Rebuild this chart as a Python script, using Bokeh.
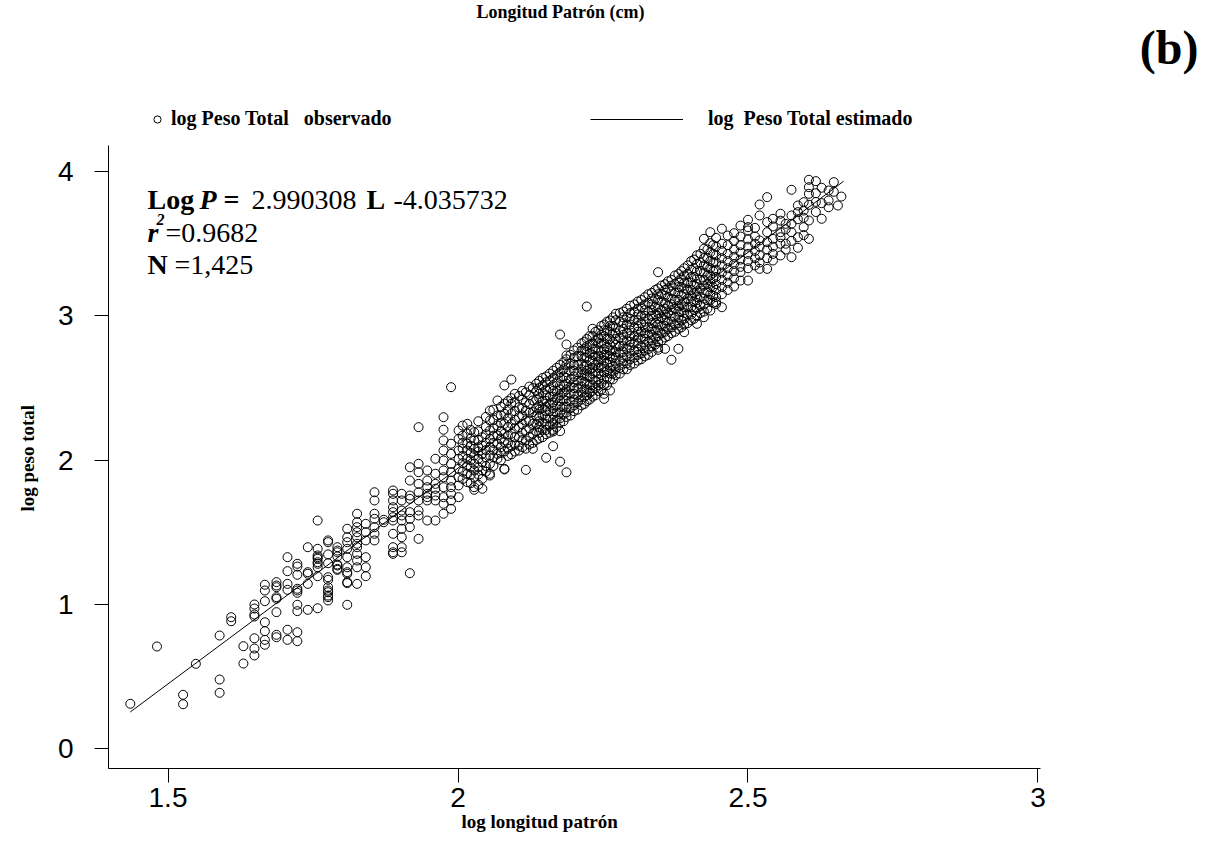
from bokeh.plotting import figure
from bokeh.models import Range1d, FixedTicker, NumeralTickFormatter, Label, Legend, LegendItem, Title
from bokeh.embed import file_html
from bokeh.resources import INLINE

# ---------------- data ----------------
# observed points, grouped by log length column
col_x = [1.435, 1.481, 1.526, 1.548, 1.589, 1.609, 1.630, 1.649, 1.667, 1.687,
         1.706, 1.723, 1.741, 1.758, 1.776, 1.792, 1.809, 1.826, 1.841, 1.856,
         1.872, 1.888, 1.903, 1.917, 1.932, 1.947, 1.961, 1.975, 1.988, 2.001,
         2.016, 2.028, 2.042, 2.055, 2.068, 2.080, 2.092, 2.105, 2.117, 2.129,
         2.140, 2.152, 2.164, 2.176, 2.187, 2.200, 2.213, 2.222, 2.232, 2.242,
         2.252, 2.262, 2.272, 2.285, 2.297, 2.310, 2.322, 2.334, 2.345, 2.357,
         2.368, 2.380, 2.390, 2.402, 2.412, 2.424, 2.435, 2.445, 2.455, 2.465,
         2.476, 2.487, 2.500, 2.512, 2.520, 2.533, 2.543, 2.556, 2.565, 2.575,
         2.586, 2.596, 2.605, 2.617, 2.627, 2.639, 2.648, 2.655, 2.661]
col_y = [
    [0.312],
    [0.709],
    [0.374, 0.309],
    [0.589],
    [0.785, 0.480, 0.388],
    [0.912, 0.884],
    [0.711, 0.591],
    [1.000, 0.972, 0.931, 0.917, 0.766, 0.695, 0.647],
    [1.137, 1.097, 1.023, 0.877, 0.815, 0.755, 0.721],
    [1.155, 1.132, 1.120, 1.051, 1.040, 0.947, 0.790, 0.773],
    [1.328, 1.231, 1.143, 1.102, 0.825, 0.755],
    [1.282, 1.263, 1.206, 1.109, 1.097, 1.081, 0.998, 0.954, 0.808, 0.746],
    [1.397, 1.224, 1.213, 1.143, 0.963],
    [1.582, 1.386, 1.340, 1.328, 1.317, 1.293, 1.282, 1.258, 1.196, 0.974],
    [1.444, 1.432, 1.347, 1.286, 1.189, 1.171, 1.120, 1.097, 1.085, 1.062, 1.051, 1.028],
    [1.397, 1.374, 1.362, 1.333, 1.277, 1.270, 1.247, 1.240],
    [1.525, 1.466, 1.432, 1.386, 1.328, 1.258, 1.224, 1.213, 1.155, 1.148, 0.998],
    [1.629, 1.570, 1.536, 1.501, 1.466, 1.421, 1.397, 1.351, 1.305, 1.258, 1.143],
    [1.559, 1.501, 1.444, 1.328, 1.258, 1.196],
    [1.778, 1.721, 1.629, 1.594, 1.536, 1.490, 1.444],
    [1.587, 1.570],
    [1.790, 1.767, 1.721, 1.674, 1.640, 1.605, 1.582, 1.490, 1.397, 1.362, 1.351],
    [1.767, 1.721, 1.651, 1.617, 1.582, 1.525, 1.466, 1.397, 1.362],
    [1.951, 1.859, 1.755, 1.732, 1.640, 1.594, 1.536, 1.217],
    [2.229, 1.975, 1.917, 1.836, 1.778, 1.721, 1.651, 1.617, 1.455],
    [1.929, 1.859, 1.813, 1.767, 1.744, 1.721, 1.582],
    [2.010, 1.906, 1.836, 1.802, 1.755, 1.721, 1.582],
    [2.298, 2.211, 2.137, 2.067, 1.998, 1.929, 1.882, 1.813, 1.744, 1.698, 1.629],
    [2.506, 2.114, 2.044, 1.975, 1.917, 1.859, 1.813, 1.767, 1.721, 1.663],
    [2.206, 2.148, 2.067, 2.010, 1.940, 1.882, 1.825, 1.744],
    [2.252, 2.183, 2.114, 2.067, 2.010, 1.963, 1.906, 1.848],
    [2.194, 2.137, 2.079, 2.033, 1.975, 1.929, 1.882, 1.813, 1.795],
    [2.159, 2.102, 2.044, 1.986, 1.929, 1.871, 1.802],
    [2.344, 2.275, 2.206, 2.148, 2.090, 2.033, 1.975, 1.906, 1.894],
    [2.414, 2.310, 2.240, 2.171, 2.114, 2.044, 2.010],
    [2.518, 2.392, 2.322, 2.252, 2.183, 2.125, 2.060, 1.940, 1.936],
    [2.559, 2.430, 2.391, 2.322, 2.252, 2.183, 2.102, 2.040],
    [2.445, 2.367, 2.298, 2.229, 2.159, 2.100, 2.067],
    [2.470, 2.400, 2.344, 2.275, 2.206, 2.137, 2.080, 1.933],
    [2.500, 2.414, 2.333, 2.252, 2.183, 2.120, 2.079],
    [2.55, 2.50, 2.46, 2.43, 2.38, 2.35, 2.30, 2.27, 2.23, 2.19, 2.15],
    [2.58, 2.54, 2.49, 2.45, 2.41, 2.37, 2.34, 2.29, 2.25, 2.21, 2.18, 2.017],
    [2.62, 2.57, 2.52, 2.48, 2.44, 2.40, 2.36, 2.32, 2.28, 2.25, 2.21, 2.097, 2.199],
    [2.871, 2.66, 2.61, 2.57, 2.52, 2.49, 2.45, 2.41, 2.37, 2.33, 2.29, 2.26, 2.201, 1.990],
    [2.802, 2.726, 2.70, 2.66, 2.61, 2.57, 2.53, 2.49, 2.45, 2.41, 2.37, 2.33, 2.30, 1.916],
    [2.76, 2.71, 2.66, 2.62, 2.58, 2.54, 2.50, 2.46, 2.42, 2.38, 2.34],
    [2.81, 2.76, 2.72, 2.67, 2.63, 2.59, 2.55, 2.51, 2.47, 2.42, 2.38],
    [3.065, 2.84, 2.79, 2.75, 2.71, 2.66, 2.62, 2.58, 2.53, 2.49, 2.45, 2.41],
    [2.911, 2.86, 2.81, 2.77, 2.73, 2.69, 2.64, 2.60, 2.56, 2.52, 2.48, 2.44],
    [2.841, 2.90, 2.85, 2.81, 2.76, 2.72, 2.68, 2.64, 2.60, 2.56, 2.52, 2.48],
    [2.94, 2.90, 2.86, 2.81, 2.77, 2.73, 2.69, 2.65, 2.61, 2.56, 2.52, 2.460, 2.425],
    [2.968, 2.93, 2.89, 2.84, 2.80, 2.76, 2.72, 2.68, 2.64, 2.60, 2.56, 2.483],
    [3.015, 2.97, 2.92, 2.88, 2.84, 2.80, 2.75, 2.71, 2.67, 2.63, 2.59],
    [3.03, 2.99, 2.95, 2.91, 2.87, 2.83, 2.79, 2.75, 2.71, 2.67, 2.63],
    [3.07, 3.02, 2.98, 2.94, 2.90, 2.86, 2.82, 2.78, 2.74, 2.70, 2.66],
    [3.10, 3.05, 3.01, 2.97, 2.93, 2.89, 2.85, 2.81, 2.77, 2.73, 2.69],
    [3.13, 3.08, 3.04, 3.00, 2.96, 2.92, 2.88, 2.84, 2.80, 2.76, 2.72],
    [3.16, 3.12, 3.08, 3.04, 3.00, 2.95, 2.91, 2.87, 2.83, 2.79, 2.75],
    [3.303, 3.19, 3.15, 3.11, 3.06, 3.02, 2.98, 2.94, 2.90, 2.86, 2.82, 2.765, 2.78],
    [3.22, 3.18, 3.14, 3.09, 3.05, 3.01, 2.97, 2.93, 2.89, 2.85, 2.772],
    [3.25, 3.21, 3.17, 3.12, 3.08, 3.04, 3.00, 2.96, 2.92, 2.88, 2.696],
    [3.29, 3.24, 3.20, 3.16, 3.11, 3.07, 3.03, 2.99, 2.95, 2.91, 2.772],
    [3.33, 3.28, 3.23, 3.19, 3.15, 3.10, 3.06, 3.02, 2.98, 2.94, 2.887],
    [3.38, 3.32, 3.27, 3.23, 3.18, 3.14, 3.10, 3.06, 3.01, 2.97],
    [3.42, 3.36, 3.31, 3.26, 3.22, 3.17, 3.13, 3.09, 3.05, 3.00, 2.945],
    [3.534, 3.465, 3.40, 3.35, 3.30, 3.25, 3.21, 3.16, 3.12, 3.08, 3.03, 2.991],
    [3.580, 3.504, 3.44, 3.38, 3.33, 3.28, 3.24, 3.20, 3.15, 3.11, 3.037],
    [3.541, 3.48, 3.42, 3.37, 3.32, 3.27, 3.22, 3.18, 3.13, 3.095, 3.082],
    [3.604, 3.50, 3.45, 3.40, 3.35, 3.30, 3.25, 3.20, 3.15, 3.060],
    [3.557, 3.49, 3.43, 3.38, 3.33, 3.28, 3.23, 3.18],
    [3.573, 3.52, 3.46, 3.41, 3.36, 3.31, 3.26, 3.204],
    [3.626, 3.55, 3.49, 3.44, 3.39, 3.34, 3.245, 3.303],
    [3.666, 3.615, 3.592, 3.53, 3.48, 3.43, 3.38, 3.33, 3.245],
    [3.61, 3.55, 3.50, 3.45, 3.40, 3.35],
    [3.772, 3.696, 3.523, 3.48, 3.42, 3.326, 3.37],
    [3.823, 3.65, 3.58, 3.511, 3.46, 3.40, 3.326],
    [3.673, 3.62, 3.534, 3.48, 3.43, 3.384],
    [3.708, 3.66, 3.580, 3.545, 3.50, 3.419],
    [3.638, 3.60, 3.500, 3.46],
    [3.874, 3.696, 3.638, 3.58, 3.52, 3.407],
    [3.765, 3.719, 3.67, 3.545, 3.472],
    [3.788, 3.730, 3.68, 3.615, 3.56],
    [3.943, 3.846, 3.892, 3.77, 3.661, 3.534],
    [3.934, 3.85, 3.79, 3.72],
    [3.888, 3.781, 3.673],
    [3.869, 3.753, 3.80],
    [3.927, 3.86],
    [3.765],
    [3.827],
]

# extra columns inside the dense central band (between the columns above)
band_x = [2.008, 2.022, 2.035, 2.048, 2.061, 2.074, 2.086, 2.098, 2.111, 2.123,
          2.135, 2.146, 2.158, 2.170, 2.182, 2.194, 2.206, 2.218, 2.227, 2.237,
          2.247, 2.257, 2.267, 2.279, 2.291, 2.304, 2.316, 2.328, 2.340, 2.351,
          2.362, 2.374, 2.385, 2.396, 2.407, 2.418, 2.430, 2.440]
band_y = [
    [2.24, 2.17, 2.12, 2.08, 2.03, 1.98, 1.92, 1.87],
    [2.21, 2.15, 2.10, 2.05, 2.00, 1.95, 1.90, 1.84],
    [2.27, 2.20, 2.14, 2.09, 2.06, 2.01, 1.95, 1.90, 1.83],
    [2.30, 2.23, 2.18, 2.12, 2.07, 2.02, 1.96, 1.92],
    [2.35, 2.28, 2.22, 2.17, 2.12, 2.07, 2.02, 1.96],
    [2.37, 2.31, 2.26, 2.20, 2.15, 2.09, 2.05, 2.00],
    [2.41, 2.35, 2.29, 2.23, 2.17, 2.12, 2.08, 2.03],
    [2.46, 2.40, 2.34, 2.28, 2.22, 2.16, 2.11, 2.06],
    [2.48, 2.42, 2.36, 2.31, 2.25, 2.19, 2.14, 2.09],
    [2.51, 2.45, 2.39, 2.33, 2.27, 2.22, 2.16, 2.11],
    [2.53, 2.48, 2.42, 2.36, 2.31, 2.25, 2.20, 2.14],
    [2.57, 2.52, 2.47, 2.41, 2.36, 2.31, 2.26, 2.21, 2.16],
    [2.60, 2.55, 2.50, 2.44, 2.39, 2.34, 2.29, 2.24, 2.19],
    [2.64, 2.59, 2.54, 2.48, 2.43, 2.38, 2.33, 2.28, 2.23],
    [2.68, 2.63, 2.58, 2.52, 2.47, 2.42, 2.37, 2.32, 2.27],
    [2.73, 2.67, 2.62, 2.56, 2.51, 2.46, 2.41, 2.36, 2.31],
    [2.78, 2.72, 2.66, 2.61, 2.55, 2.50, 2.45, 2.40, 2.35],
    [2.82, 2.77, 2.71, 2.65, 2.60, 2.54, 2.49, 2.44, 2.39],
    [2.86, 2.80, 2.74, 2.69, 2.63, 2.58, 2.52, 2.47, 2.42],
    [2.89, 2.83, 2.77, 2.72, 2.66, 2.61, 2.55, 2.50, 2.45],
    [2.93, 2.87, 2.81, 2.75, 2.70, 2.64, 2.59, 2.53, 2.49],
    [2.96, 2.90, 2.84, 2.78, 2.73, 2.67, 2.62, 2.57, 2.52],
    [2.99, 2.93, 2.87, 2.82, 2.76, 2.71, 2.65, 2.60, 2.56],
    [3.02, 2.96, 2.90, 2.85, 2.79, 2.74, 2.69, 2.64, 2.60],
    [3.05, 2.99, 2.94, 2.88, 2.83, 2.77, 2.72, 2.67, 2.63],
    [3.08, 3.03, 2.97, 2.92, 2.86, 2.81, 2.76, 2.71, 2.67],
    [3.11, 3.06, 3.00, 2.95, 2.89, 2.84, 2.79, 2.74, 2.70],
    [3.15, 3.09, 3.03, 2.98, 2.92, 2.87, 2.82, 2.77, 2.73],
    [3.18, 3.12, 3.06, 3.01, 2.95, 2.90, 2.85, 2.80],
    [3.21, 3.15, 3.10, 3.04, 2.99, 2.93, 2.88, 2.83],
    [3.24, 3.19, 3.13, 3.07, 3.02, 2.96, 2.91, 2.86],
    [3.28, 3.22, 3.16, 3.11, 3.05, 2.99, 2.94, 2.89],
    [3.31, 3.26, 3.20, 3.14, 3.08, 3.03, 2.97, 2.92],
    [3.35, 3.29, 3.23, 3.18, 3.12, 3.06, 3.01, 2.95],
    [3.39, 3.33, 3.27, 3.21, 3.16, 3.10, 3.04, 2.98],
    [3.43, 3.37, 3.31, 3.25, 3.19, 3.13, 3.07, 3.02],
    [3.46, 3.40, 3.34, 3.28, 3.22, 3.17, 3.11, 3.05],
    [3.49, 3.43, 3.37, 3.31, 3.26, 3.20, 3.14, 3.09],
]

# fitted line: Log P = 2.990308 L - 4.035732
slope = 2.990308
intercept = -4.035732
fit_x = [1.435, 2.665]

x_ticks = [1.5, 2, 2.5, 3]
y_ticks = [0, 1, 2, 3, 4]

obs_x = ([x for x, col in zip(col_x, col_y) for _ in col]
         + [x for x, col in zip(band_x, band_y) for _ in col])
obs_y = [y for col in col_y for y in col] + [y for col in band_y for y in col]
fit_y = [slope * x + intercept for x in fit_x]

# ---------------- layout ----------------
W, H = 1209, 846
FL, FB = 108, 768            # frame left / bottom in page pixels
X0, X1 = 1.3974, 3.2957      # frame spans to right edge of page
Y0, Y1 = -0.1365, 5.1857     # frame spans to top edge of page
XAX_END = 3.0043             # end of drawn x-axis line
YAX_END = 4.181              # end of drawn y-axis line


def sx(px):
    return X0 + (px - FL) / (W - FL) * (X1 - X0)


def sy(py):
    return Y0 + (FB - py) / FB * (Y1 - Y0)


p = figure(width=W, height=H, x_range=Range1d(X0, X1), y_range=Range1d(Y0, Y1),
           output_backend="svg", toolbar_location=None,
           min_border_left=FL, min_border_right=0, min_border_top=0,
           min_border_bottom=H - FB)
p.outline_line_color = None
p.grid.visible = False
p.background_fill_color = "white"
p.border_fill_color = "white"

pts = p.scatter(obs_x, obs_y, marker="circle", size=9, fill_color=None,
                line_color="black", line_width=1)
fit = p.line(fit_x, fit_y, line_color="black", line_width=1)

for ax in (p.xaxis[0], p.yaxis[0]):
    ax.axis_line_color = "black"
    ax.axis_line_width = 1
    ax.major_tick_line_color = "black"
    ax.major_tick_in = 0
    ax.major_tick_out = 14
    ax.minor_tick_line_color = None
    ax.major_label_text_font = "Liberation Sans"
    ax.major_label_text_font_size = "28px"
    ax.major_label_text_color = "black"

p.xaxis[0].ticker = FixedTicker(ticks=x_ticks)
p.xaxis[0].formatter = NumeralTickFormatter(format="0.[0]")
p.xaxis[0].bounds = (X0, XAX_END)
p.xaxis[0].major_label_standoff = 5

p.yaxis[0].ticker = FixedTicker(ticks=y_ticks)
p.yaxis[0].formatter = NumeralTickFormatter(format="0")
p.yaxis[0].bounds = (Y0, YAX_END)
p.yaxis[0].major_label_standoff = 21

SERIF = "Liberation Serif"

# axis titles (as side-panel titles so that they can be placed off-centre)
p.add_layout(Title(text="log  longitud patrón", align="left", offset=353,
                   vertical_align="top", standoff=2, text_font=SERIF,
                   text_font_style="bold", text_font_size="19px",
                   text_color="black"), "below")
p.add_layout(Title(text="log  peso total", align="left", offset=257,
                   vertical_align="top", standoff=30, text_font=SERIF,
                   text_font_style="bold", text_font_size="19px",
                   text_color="black"), "left")


def lab(px, py, text, size, style="normal", align="left", baseline="alphabetic"):
    p.add_layout(Label(x=sx(px), y=sy(py), text=text, text_font=SERIF,
                       text_font_size=size, text_font_style=style,
                       text_align=align, text_baseline=baseline,
                       text_color="black"))


# top texts
lab(560, 11, "Longitud Patrón (cm)", "18px", "bold", "center", "middle")
lab(1198, 47, "(b)", "48px", "bold", "right")

# equation block
lab(147, 199, "Log", "28px", "bold")
lab(199, 199, "P", "28px", "bold italic")
lab(223, 199, "=", "28px", "bold")
lab(251, 199, "2.990308", "28px")
lab(366, 199, "L", "28px", "bold")
lab(393, 199, "-4.035732", "28px")
lab(147, 232, "r", "28px", "bold italic")
lab(156, 219, "2", "16px", "bold italic")
lab(165, 232, "=0.9682", "28px")
lab(147, 264, "N", "28px", "bold")
lab(174, 264, "=1,425", "28px")

# legends
leg_common = dict(padding=0, margin=0, border_line_color=None,
                  background_fill_alpha=0, glyph_height=18, label_height=18,
                  label_text_font=SERIF, label_text_font_style="bold",
                  label_text_font_size="20px", label_text_color="black",
                  label_text_baseline="middle")
leg1 = Legend(items=[LegendItem(label="log Peso Total   observado", renderers=[pts])],
              location=(40, 638), glyph_width=18, label_standoff=5, **leg_common)
leg2 = Legend(items=[LegendItem(label="log  Peso Total estimado", renderers=[fit])],
              location=(482, 638), glyph_width=93, label_standoff=25, **leg_common)
p.add_layout(leg1)
p.add_layout(leg2)

open("out.html", "w").write(file_html(p, INLINE))
